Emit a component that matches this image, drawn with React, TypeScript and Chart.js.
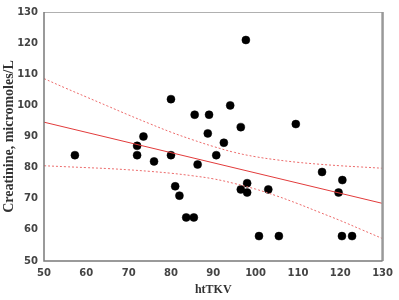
import React, { useEffect, useRef } from "react";
import { Chart, registerables } from "chart.js";

Chart.register(...registerables);

const htTKV = [57.3, 72, 72, 73.5, 76, 80, 80, 81, 82, 83.6, 85.4, 85.6, 86.3, 88.7, 89, 90.7, 92.5, 94, 96.5, 96.5, 97.7, 98, 98, 100.8, 103, 105.5, 109.5, 115.7, 119.6, 120.4, 120.5, 122.8];
const creatinine = [84, 84, 87, 90, 82, 84, 102, 74, 71, 64, 64, 97, 81, 91, 97, 84, 88, 100, 93, 73, 121, 75, 72, 58, 73, 58, 94, 78.6, 72, 58, 76, 58];

const fitX = [50, 130];
const fitY = [94.6, 68.5];

const ciX = [50, 55, 60, 65, 70, 75, 80, 85, 90, 95, 100, 105, 110, 115, 120, 125, 130];
const ciUpper = [108.6, 105.6, 102.7, 99.8, 96.9, 94.1, 91.4, 89.0, 86.8, 84.9, 83.5, 82.5, 81.7, 81.1, 80.6, 80.2, 79.8];
const ciLower = [80.6, 80.3, 80.0, 79.7, 79.3, 78.8, 78.2, 77.4, 76.4, 74.9, 73.1, 70.9, 68.4, 65.7, 63.0, 60.1, 57.2];

const xTitle = "htTKV";
const yTitle = "Creatinine, micromoles/L";

const framePlugin = {
  id: "frame",
  afterDraw(chart: any) {
    const { ctx, chartArea } = chart;
    const { left, right, top, bottom } = chartArea;
    ctx.save();
    ctx.strokeStyle = "#b0b0b0";
    ctx.lineWidth = 1;
    ctx.beginPath();
    ctx.moveTo(left, top + 0.5);
    ctx.lineTo(right, top + 0.5);
    ctx.stroke();
    ctx.strokeStyle = "#999";
    ctx.lineWidth = 2.5;
    ctx.beginPath();
    ctx.moveTo(right, top);
    ctx.lineTo(right, bottom);
    ctx.stroke();
    ctx.strokeStyle = "#7a7a7a";
    ctx.lineWidth = 1.5;
    ctx.beginPath();
    ctx.moveTo(left, top);
    ctx.lineTo(left, bottom);
    ctx.lineTo(right, bottom);
    ctx.stroke();
    ctx.restore();
  },
};

export default function App() {
  const ref = useRef<HTMLCanvasElement>(null);
  useEffect(() => {
    if (!ref.current) return;
    const tickFont = { family: "DejaVu Sans", size: 10, weight: "bold" as const };
    const chart = new Chart(ref.current, {
      type: "scatter",
      data: {
        datasets: [
          {
            type: "line",
            data: ciX.map((x, i) => ({ x, y: ciUpper[i] })),
            borderColor: "#ec6b6b",
            borderWidth: 1,
            borderDash: [2, 2],
            pointRadius: 0,
            tension: 0.4,
            fill: false,
          },
          {
            type: "line",
            data: ciX.map((x, i) => ({ x, y: ciLower[i] })),
            borderColor: "#ec6b6b",
            borderWidth: 1,
            borderDash: [2, 2],
            pointRadius: 0,
            tension: 0.4,
            fill: false,
          },
          {
            type: "line",
            data: fitX.map((x, i) => ({ x, y: fitY[i] })),
            borderColor: "#e23b3b",
            borderWidth: 1,
            pointRadius: 0,
            fill: false,
          },
          {
            data: htTKV.map((x, i) => ({ x, y: creatinine[i] })),
            backgroundColor: "#000",
            borderColor: "#000",
            borderWidth: 0.5,
            pointRadius: 4,
            pointHoverRadius: 4,
          },
        ],
      } as any,
      options: {
        animation: false,
        responsive: false,
        maintainAspectRatio: false,
        layout: { padding: { top: 11, right: 14, left: 0, bottom: 0 } },
        plugins: { legend: { display: false }, tooltip: { enabled: false } },
        scales: {
          x: {
            type: "linear",
            min: 50,
            max: 130,
            grid: { display: false, drawTicks: false },
            border: { display: false },
            ticks: { stepSize: 10, padding: 6, color: "#444", font: tickFont },
            title: {
              display: true,
              text: xTitle,
              color: "#333",
              font: { family: "Liberation Serif", size: 12, weight: "bold" },
              padding: { top: 0, bottom: 3 },
            },
            afterFit: (s: any) => { s.height = 39; },
          },
          y: {
            type: "linear",
            min: 50,
            max: 130,
            grid: { display: false, drawTicks: false },
            border: { display: false },
            ticks: { stepSize: 10, padding: 6, color: "#444", font: tickFont },
            title: {
              display: true,
              text: yTitle,
              color: "#333",
              font: { family: "Liberation Serif", size: 14, weight: "bold" },
              padding: { top: 1, bottom: 0 },
            },
            afterFit: (s: any) => { s.width = 44; },
          },
        },
      },
      plugins: [framePlugin],
    });
    return () => chart.destroy();
  }, []);
  return (
    <div style={{ position: "fixed", left: 0, top: 0, width: 399, height: 300, background: "#fff" }}>
      <canvas ref={ref} width={399} height={300} style={{ width: 399, height: 300 }} />
    </div>
  );
}
